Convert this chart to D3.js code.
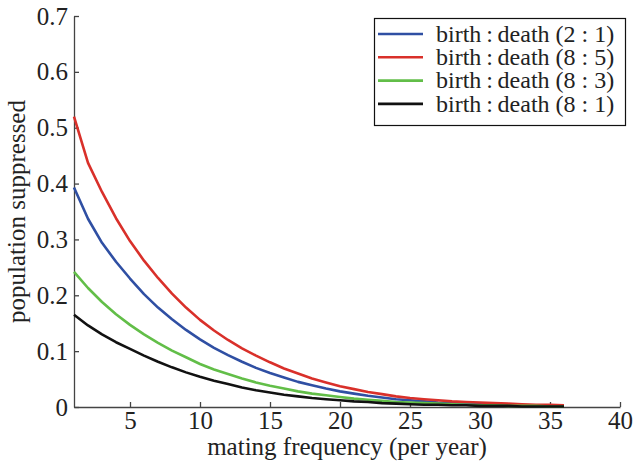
<!DOCTYPE html>
<html>
<head>
<meta charset="utf-8">
<script src="https://cdn.jsdelivr.net/npm/d3@7"></script>
<style>
html,body{margin:0;padding:0;background:#fff;}
svg text{font-family:"Liberation Serif","Tinos","Times New Roman","Times","DejaVu Serif",serif !important;fill:#222;}
</style>
</head>
<body>
<svg id="chart" width="633" height="463"></svg>
<script>
const xValues = d3.range(1, 37);
const seriesNames = ["birth\u2009:\u2009death (2 : 1)", "birth\u2009:\u2009death (8 : 5)", "birth\u2009:\u2009death (8 : 3)", "birth\u2009:\u2009death (8 : 1)"];
const seriesColors = ["#2f4fa3", "#d9302a", "#62be48", "#111111"];
const blue = [0.393,0.337,0.294,0.260,0.230,0.202,0.178,0.157,0.138,0.121,0.106,0.093,0.081,0.070,0.061,0.053,0.045,0.039,0.033,0.028,0.024,0.020,0.017,0.014,0.012,0.010,0.008,0.007,0.006,0.005,0.004,0.003,0.003,0.002,0.002,0.002];
const red = [0.520,0.437,0.385,0.338,0.297,0.262,0.231,0.203,0.178,0.156,0.137,0.120,0.105,0.092,0.080,0.069,0.060,0.051,0.044,0.037,0.032,0.027,0.023,0.019,0.016,0.014,0.012,0.010,0.009,0.008,0.007,0.006,0.005,0.004,0.004,0.003];
const green = [0.242,0.213,0.188,0.166,0.147,0.130,0.115,0.101,0.089,0.077,0.067,0.059,0.051,0.044,0.038,0.033,0.028,0.024,0.021,0.018,0.015,0.013,0.011,0.009,0.008,0.007,0.006,0.005,0.004,0.003,0.003,0.002,0.002,0.002,0.001,0.001];
const black = [0.165,0.146,0.130,0.116,0.104,0.092,0.081,0.071,0.062,0.054,0.047,0.041,0.035,0.030,0.026,0.022,0.019,0.016,0.014,0.012,0.010,0.009,0.007,0.006,0.005,0.004,0.004,0.003,0.003,0.002,0.002,0.002,0.001,0.001,0.001,0.001];
const xTicks = [5,10,15,20,25,30,35,40];
const yTicks = [0,0.1,0.2,0.3,0.4,0.5,0.6,0.7];
const xLabel = "mating frequency (per year)";
const yLabel = "population suppressed";

const series = [blue, red, green, black];
const svg = d3.select("#chart");
const x = d3.scaleLinear().domain([1, 40]).range([74, 620]);
const y = d3.scaleLinear().domain([0, 0.7]).range([407, 16]);
const axisColor = "#444";
const FONT = '"Liberation Serif","Tinos","Times New Roman","Times","DejaVu Serif",serif';

// x axis
const gx = svg.append("g").attr("transform", `translate(0,${y(0)})`)
  .call(d3.axisBottom(x).tickValues(xTicks).tickSizeInner(-5).tickSizeOuter(0).tickPadding(4).tickFormat(d3.format("d")));
gx.attr("font-family", FONT).attr("font-size", 25);
gx.select(".domain").attr("stroke", axisColor).attr("stroke-width", 1.3);
gx.selectAll(".tick line").attr("stroke", axisColor).attr("stroke-width", 1.3);
gx.selectAll(".tick text").attr("fill", "#222");

// y axis
const gy = svg.append("g").attr("transform", `translate(${x(1)},0)`)
  .call(d3.axisLeft(y).tickValues(yTicks).tickSizeInner(-5).tickSizeOuter(0).tickPadding(6).tickFormat(d => d === 0 ? "0" : d3.format(".1f")(d)));
gy.attr("font-family", FONT).attr("font-size", 25);
gy.select(".domain").attr("stroke", axisColor).attr("stroke-width", 1.3);
gy.selectAll(".tick line").attr("stroke", axisColor).attr("stroke-width", 1.3);
gy.selectAll(".tick text").attr("fill", "#222");

// axis labels
svg.append("text").attr("x", (x(1) + x(40)) / 2).attr("y", 455)
  .attr("text-anchor", "middle").attr("font-size", 25).attr("font-family", FONT).text(xLabel);
svg.append("text").attr("transform", `translate(25,${(y(0) + y(0.7)) / 2}) rotate(-90)`)
  .attr("text-anchor", "middle").attr("font-size", 25).attr("font-family", FONT).text(yLabel);

// lines
const line = d3.line().x((d, i) => x(xValues[i])).y(d => y(d));
series.forEach((s, k) => {
  svg.append("path").datum(s).attr("d", line)
    .attr("fill", "none").attr("stroke", seriesColors[k]).attr("stroke-width", 2.6)
    .attr("stroke-linejoin", "round");
});

// legend
const lg = svg.append("g");
lg.append("rect").attr("x", 374.5).attr("y", 18.5).attr("width", 251).attr("height", 107)
  .attr("fill", "#fff").attr("stroke", "#111").attr("stroke-width", 1.2);
seriesNames.forEach((name, k) => {
  const yy = 34 + k * 23.3;
  lg.append("line").attr("x1", 378).attr("x2", 423).attr("y1", yy).attr("y2", yy)
    .attr("stroke", seriesColors[k]).attr("stroke-width", 2.6);
  lg.append("text").attr("x", 436).attr("y", yy).attr("dy", "0.32em")
    .attr("font-size", 24).attr("font-family", FONT).text(name);
});
</script>
</body>
</html>
